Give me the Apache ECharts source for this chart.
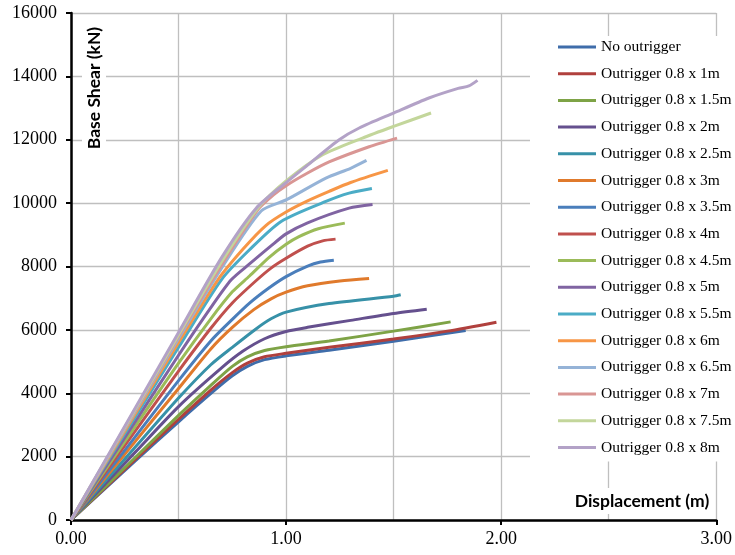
<!DOCTYPE html>
<html>
<head>
<meta charset="utf-8">
<script src="https://cdn.jsdelivr.net/npm/echarts@6/dist/echarts.min.js"></script>
<style>html,body{margin:0;padding:0;background:#fff}#c{width:735px;height:555px}</style>
</head>
<body>
<div id="c"></div>
<script>
const seriesNames = ['No outrigger','Outrigger 0.8 x 1m','Outrigger 0.8 x 1.5m','Outrigger 0.8 x 2m','Outrigger 0.8 x 2.5m','Outrigger 0.8 x 3m','Outrigger 0.8 x 3.5m','Outrigger 0.8 x 4m','Outrigger 0.8 x 4.5m','Outrigger 0.8 x 5m','Outrigger 0.8 x 5.5m','Outrigger 0.8 x 6m','Outrigger 0.8 x 6.5m','Outrigger 0.8 x 7m','Outrigger 0.8 x 7.5m','Outrigger 0.8 x 8m'];
const xTicks = [0, 1, 2, 3];
const yTicks = [0, 2000, 4000, 6000, 8000, 10000, 12000, 14000, 16000];

const noOutrigger = [[0,0],[0.3,1870],[0.5,3100],[0.66,4050],[0.75,4550],[0.82,4850],[0.9,5060],[1.0,5180],[1.2,5360],[1.5,5640],[1.835,5980]];
const out1m   = [[0,0],[0.3,1920],[0.5,3180],[0.65,4100],[0.75,4650],[0.82,4950],[0.9,5150],[1.0,5260],[1.2,5450],[1.5,5710],[1.75,5960],[1.978,6243]];
const out1_5m = [[0,0],[0.3,1980],[0.5,3300],[0.65,4250],[0.75,4850],[0.82,5150],[0.9,5350],[1.0,5470],[1.2,5650],[1.5,5960],[1.765,6253]];
const out2m   = [[0,0],[0.3,2150],[0.5,3580],[0.7,4800],[0.8,5330],[0.9,5720],[1.0,5950],[1.1,6080],[1.3,6300],[1.5,6520],[1.654,6654]];
const out2_5m = [[0,0],[0.3,2310],[0.5,3850],[0.65,4900],[0.75,5450],[0.86,6030],[0.93,6350],[1.0,6560],[1.2,6830],[1.5,7060],[1.533,7106]];
const out3m   = [[0,0],[0.3,2490],[0.5,4150],[0.65,5400],[0.75,6080],[0.85,6640],[0.93,6980],[1.0,7190],[1.1,7390],[1.25,7540],[1.386,7621]];
const out3_5m = [[0,0],[0.3,2640],[0.5,4400],[0.65,5650],[0.75,6330],[0.83,6843],[0.92,7320],[1.0,7680],[1.1,8010],[1.16,8140],[1.222,8200]];
const out4m   = [[0,0],[0.3,2820],[0.5,4700],[0.65,6050],[0.75,6850],[0.86,7550],[0.93,7950],[1.0,8260],[1.1,8640],[1.17,8810],[1.23,8864]];
const out4_5m = [[0,0],[0.3,2970],[0.5,4950],[0.65,6350],[0.75,7200],[0.83,7700],[0.92,8280],[1.0,8700],[1.06,8940],[1.15,9190],[1.273,9369]];
const out5m   = [[0,0],[0.3,3120],[0.5,5200],[0.65,6700],[0.745,7580],[0.83,8080],[0.93,8650],[1.0,9030],[1.1,9380],[1.293,9843],[1.402,9958]];
const out5_5m = [[0,0],[0.3,3270],[0.5,5450],[0.699,7580],[0.83,8527],[0.977,9421],[1.185,10053],[1.293,10316],[1.399,10464]];
const out6m   = [[0,0],[0.3,3360],[0.5,5600],[0.683,7580],[0.8,8550],[0.907,9300],[1.0,9720],[1.1,10070],[1.2,10370],[1.3,10650],[1.473,11032]];
const out6_5m = [[0,0],[0.3,3440],[0.5,5730],[0.7,7950],[0.884,9750],[1.0,10100],[1.185,10790],[1.3,11100],[1.374,11347]];
const out7m   = [[0,0],[0.3,3480],[0.5,5800],[0.7,8050],[0.87,9800],[0.94,10250],[1.0,10550],[1.1,10950],[1.2,11300],[1.386,11780],[1.516,12053]];
const out7_5m = [[0,0],[0.3,3510],[0.5,5850],[0.7,8150],[0.87,9850],[1.0,10700],[1.17,11527],[1.355,12054],[1.5,12421],[1.674,12843]];
const out8m   = [[0,0],[0.3,3550],[0.5,5920],[0.7,8280],[0.861,9840],[1.0,10650],[1.1,11200],[1.247,12000],[1.34,12370],[1.5,12843],[1.664,13317],[1.8,13620],[1.85,13700],[1.89,13873]];

const allData = [noOutrigger,out1m,out1_5m,out2m,out2_5m,out3m,out3_5m,out4m,out4_5m,out5m,out5_5m,out6m,out6_5m,out7m,out7_5m,out8m];
const colors = ['#3F6DAA','#B0403D','#7EA346','#65508E','#3791A8','#E07A2C','#4A7EBB','#C0504D','#9BBB59','#8064A2','#4BACC6','#F79646','#95B3D7','#D99694','#C3D69B','#B3A2C7'];

const chart = echarts.init(document.getElementById('c'), null, {renderer:'canvas'});
const serif = '"Liberation Serif","Times New Roman",serif';
chart.setOption({
  animation: false,
  color: colors,
  grid: {left: 71, right: 17, top: 13, bottom: 35, containLabel: false},
  xAxis: {
    type: 'value', min: xTicks[0], max: xTicks[xTicks.length-1], interval: 1,
    axisLine: {show: true, onZero: false, lineStyle: {color: '#000', width: 2.5}},
    axisTick: {show: true, length: 5, lineStyle: {color: '#000', width: 2}},
    axisLabel: {color: '#000', fontFamily: serif, fontSize: 18, margin: 10, formatter: v => v.toFixed(2)},
    splitLine: {show: true, lineStyle: {color: '#BFBFBF', width: 1.3}},
    minorTick: {show: true, splitNumber: 2, length: 0, lineStyle: {opacity: 0}},
    minorSplitLine: {show: true, lineStyle: {color: '#BFBFBF', width: 1.3}}
  },
  yAxis: {
    type: 'value', min: yTicks[0], max: yTicks[yTicks.length-1], interval: 2000,
    axisLine: {show: true, onZero: false, lineStyle: {color: '#000', width: 2.5}},
    axisTick: {show: true, length: 5, lineStyle: {color: '#000', width: 2}},
    axisLabel: {color: '#000', fontFamily: serif, fontSize: 18, margin: 14, formatter: v => String(v)},
    splitLine: {show: true, lineStyle: {color: '#BFBFBF', width: 1.3}}
  },
  legend: {
    orient: 'vertical', left: 530, top: 36,
    padding: [2, 20, 5, 28],
    backgroundColor: '#fff',
    icon: 'rect',
    itemWidth: 38, itemHeight: 3, itemGap: 8.7,
    textStyle: {color: '#000', fontFamily: serif, fontSize: 15.5, lineHeight: 18},
    data: seriesNames
  },
  graphic: [
    {type: 'text', x: 94, y: 88, rotation: Math.PI/2, z: 100,
     style: {text: 'Base Shear (kN)', font: 'bold 17.5px Lato, "Open Sans", sans-serif', fill: '#000', align: 'center', verticalAlign: 'middle', backgroundColor: '#fff', padding: [3, 4]}},
    {type: 'text', x: 642, y: 501, z: 100,
     style: {text: 'Displacement (m)', font: 'bold 17.5px Lato, "Open Sans", sans-serif', fill: '#000', align: 'center', verticalAlign: 'middle', backgroundColor: '#fff', padding: [4, 4]}}
  ],
  series: allData.map((d, i) => ({
    name: seriesNames[i], type: 'line', data: d, symbol: 'none',
    smooth: 0.25,
    lineStyle: {width: 3, color: colors[i]}, itemStyle: {color: colors[i]}
  }))
});
</script>
</body>
</html>
